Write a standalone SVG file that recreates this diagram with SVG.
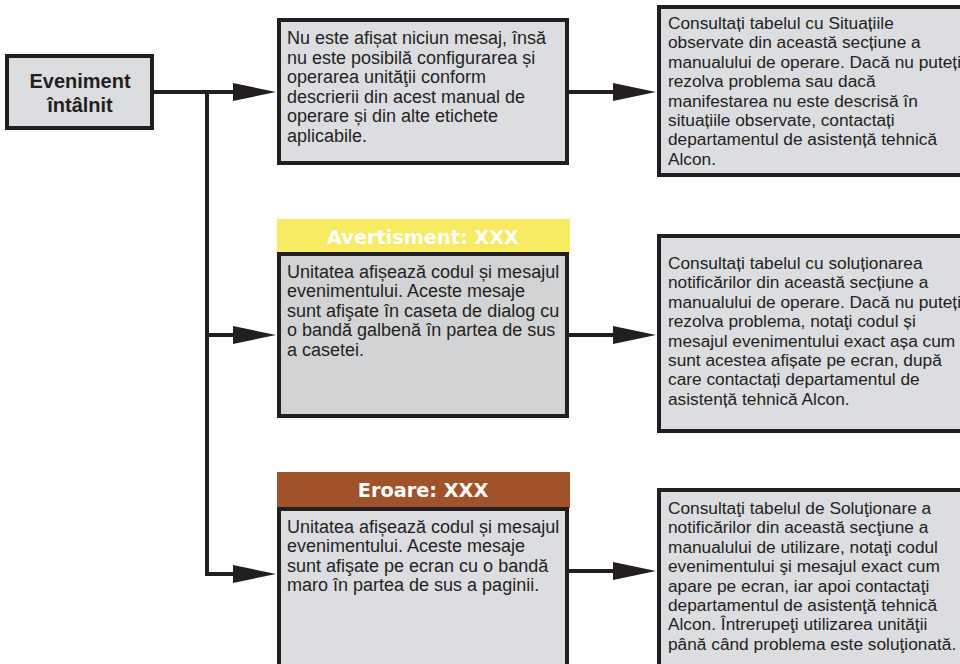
<svg xmlns="http://www.w3.org/2000/svg" width="960" height="664" viewBox="0 0 960 664">
<defs>
<style>
.box{fill:#dcdde0;stroke:#231f20;stroke-width:4}
.boxd{fill:#d2d3d5;stroke:#231f20;stroke-width:4}
.t{font-family:"Liberation Sans",Arial,sans-serif;font-size:18px;fill:#231f20}
.r{font-family:"Liberation Sans",Arial,sans-serif;font-size:17.3px;fill:#231f20}
.ev{font-family:"Liberation Sans",Arial,sans-serif;font-size:20px;font-weight:bold;fill:#231f20;text-anchor:middle}
.hd{font-family:"DejaVu Sans","Liberation Sans",sans-serif;font-size:19.3px;font-weight:bold;fill:#ffffff;text-anchor:middle}
.ln{fill:none;stroke:#231f20;stroke-width:4}
</style>
<marker id="ah" markerWidth="43" markerHeight="18" viewBox="0 0 43 18" refX="2" refY="9" orient="auto" markerUnits="userSpaceOnUse">
<path d="M0,0 L43,9 L0,18 z" fill="#231f20"/>
</marker>
</defs>
<rect width="960" height="664" fill="#ffffff"/>

<g id="connectors">
<line class="ln" x1="154" y1="92" x2="235" y2="92" marker-end="url(#ah)"/>
<line class="ln" x1="207" y1="90" x2="207" y2="576"/>
<line class="ln" x1="205" y1="335" x2="235" y2="335" marker-end="url(#ah)"/>
<line class="ln" x1="205" y1="574" x2="235" y2="574" marker-end="url(#ah)"/>
<line class="ln" x1="569" y1="92" x2="615" y2="92" marker-end="url(#ah)"/>
<line class="ln" x1="569" y1="335" x2="615" y2="335" marker-end="url(#ah)"/>
<line class="ln" x1="569" y1="571" x2="615" y2="571" marker-end="url(#ah)"/>
</g>

<g id="event">
<rect class="box" x="7" y="56" width="145" height="72"/>
<text class="ev" x="80" y="88">Eveniment</text>
<text class="ev" x="80" y="112">întâlnit</text>
</g>

<g id="no-message">
<rect class="box" x="279" y="20" width="288" height="143"/>
<text class="t" x="287" y="44">Nu este afișat niciun mesaj, însă</text>
<text class="t" x="287" y="63.5">nu este posibilă configurarea și</text>
<text class="t" x="287" y="83">operarea unităţii conform</text>
<text class="t" x="287" y="102.5">descrierii din acest manual de</text>
<text class="t" x="287" y="122">operare și din alte etichete</text>
<text class="t" x="287" y="141.5">aplicabile.</text>
</g>

<g id="no-message-action">
<rect class="box" x="659" y="7" width="320" height="168"/>
<text class="r" x="668" y="29">Consultați tabelul cu Situațiile</text>
<text class="r" x="668" y="48.4">observate din această secțiune a</text>
<text class="r" x="668" y="67.8">manualului de operare. Dacă nu puteți</text>
<text class="r" x="668" y="87.2">rezolva problema sau dacă</text>
<text class="r" x="668" y="106.6">manifestarea nu este descrisă în</text>
<text class="r" x="668" y="126">situațiile observate, contactați</text>
<text class="r" x="668" y="145.4">departamentul de asistență tehnică</text>
<text class="r" x="668" y="164.8">Alcon.</text>
</g>

<g id="warning">
<rect x="277" y="219" width="293" height="34" fill="#f7eb63"/>
<text class="hd" x="423" y="244">Avertisment: XXX</text>
<rect class="boxd" x="279" y="254" width="288" height="162"/>
<text class="t" x="287" y="278">Unitatea afișează codul și mesajul</text>
<text class="t" x="287" y="297.4">evenimentului. Aceste mesaje</text>
<text class="t" x="287" y="316.8">sunt afişate în caseta de dialog cu</text>
<text class="t" x="287" y="336.2">o bandă galbenă în partea de sus</text>
<text class="t" x="287" y="355.6">a casetei.</text>
</g>

<g id="warning-action">
<rect class="box" x="659" y="236" width="320" height="195"/>
<text class="r" x="668" y="269">Consultați tabelul cu soluționarea</text>
<text class="r" x="668" y="288.4">notificărilor din această secțiune a</text>
<text class="r" x="668" y="307.8">manualului de operare. Dacă nu puteți</text>
<text class="r" x="668" y="327.2">rezolva problema, notaţi codul și</text>
<text class="r" x="668" y="346.6">mesajul evenimentului exact așa cum</text>
<text class="r" x="668" y="366">sunt acestea afișate pe ecran, după</text>
<text class="r" x="668" y="385.4">care contactați departamentul de</text>
<text class="r" x="668" y="404.8">asistență tehnică Alcon.</text>
</g>

<g id="error">
<rect x="277" y="472" width="293" height="36" fill="#a0522a"/>
<text class="hd" x="423" y="497">Eroare: XXX</text>
<rect class="box" x="279" y="509" width="288" height="200"/>
<text class="t" x="287" y="533">Unitatea afișează codul și mesajul</text>
<text class="t" x="287" y="552.4">evenimentului. Aceste mesaje</text>
<text class="t" x="287" y="571.8">sunt afişate pe ecran cu o bandă</text>
<text class="t" x="287" y="591.2">maro în partea de sus a paginii.</text>
</g>

<g id="error-action">
<rect class="box" x="659" y="490" width="320" height="200"/>
<text class="r" x="668" y="514">Consultaţi tabelul de Soluţionare a</text>
<text class="r" x="668" y="533.4">notificărilor din această secţiune a</text>
<text class="r" x="668" y="552.8">manualului de utilizare, notaţi codul</text>
<text class="r" x="668" y="572.2">evenimentului şi mesajul exact cum</text>
<text class="r" x="668" y="591.6">apare pe ecran, iar apoi contactaţi</text>
<text class="r" x="668" y="611">departamentul de asistenţă tehnică</text>
<text class="r" x="668" y="630.4">Alcon. Întrerupeţi utilizarea unităţii</text>
<text class="r" x="668" y="649.8">până când problema este soluţionată.</text>
</g>
</svg>
